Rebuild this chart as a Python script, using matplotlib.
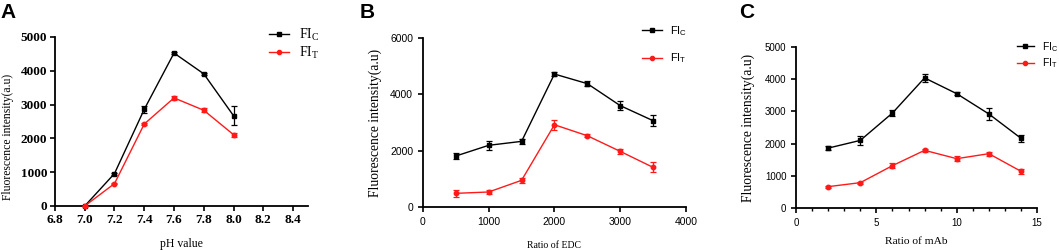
"""
Fluorescence intensity optimisation panels (pH, EDC ratio, mAb ratio).
"""

import matplotlib
matplotlib.use("Agg")
import matplotlib.pyplot as plt
from matplotlib.lines import Line2D
from matplotlib.ticker import MultipleLocator

SERIF = "Liberation Serif"
SANS = "Liberation Sans"
RED = "#FF1A1A"

# Panel A: pH
ph = [7.0, 7.2, 7.4, 7.6, 7.8, 8.0]
ph_fic = [0, 960, 2860, 4525, 3910, 2670]
ph_fic_err = [0, 30, 100, 30, 30, 280]
ph_fit = [0, 663, 2426, 3198, 2832, 2110]
ph_fit_err = [0, 20, 30, 70, 60, 60]

# Panel B: ratio of EDC
edc = [500, 1000, 1500, 2000, 2500, 3000, 3500]
edc_fic = [1810, 2190, 2330, 4720, 4380, 3600, 3065]
edc_fic_err = [110, 160, 80, 80, 80, 150, 200]
edc_fit = [485, 533, 947, 2920, 2530, 1976, 1408]
edc_fit_err = [120, 60, 80, 180, 50, 100, 180]

# Panel C: ratio of mAb
mab = [2, 4, 6, 8, 10, 12, 14]
mab_fic = [1860, 2100, 2950, 4040, 3550, 2920, 2164]
mab_fic_err = [50, 150, 100, 130, 50, 180, 100]
mab_fit = [663, 787, 1315, 1791, 1532, 1687, 1139]
mab_fit_err = [30, 30, 80, 50, 80, 60, 80]

labels = [r"FI$\mathregular{_C}$", r"FI$\mathregular{_T}$"]


def draw_series(ax, x, fic, fic_err, fit, fit_err):
    ax.errorbar(x, fic, yerr=fic_err, color="black", lw=1.0, marker="s",
                ms=3.2, capsize=2, elinewidth=0.9, capthick=0.9,
                clip_on=False, zorder=3)
    ax.errorbar(x, fit, yerr=fit_err, color=RED, lw=1.0, marker="o",
                ms=3.2, capsize=2, elinewidth=0.9, capthick=0.9,
                clip_on=False, zorder=3)


def add_legend(ax, anchor, prop, spacing, pad, hlen):
    handles = [Line2D([], [], color="black", marker="s", ms=3.0, lw=1.0),
               Line2D([], [], color=RED, marker="o", ms=3.0, lw=1.0)]
    ax.legend(handles, labels, loc="upper left", bbox_to_anchor=anchor,
              frameon=False, prop=prop, handlelength=hlen,
              labelspacing=spacing, handletextpad=pad, borderaxespad=0)


def style_axes(ax):
    for s in ["top", "right"]:
        ax.spines[s].set_visible(False)
    for s in ["left", "bottom"]:
        ax.spines[s].set_linewidth(1.3)
    ax.tick_params(width=1.2, length=3.5, direction="out")
    ax.tick_params(which="minor", width=1.0, length=2.5)


fig = plt.figure(figsize=(10.59, 2.5), dpi=100)

# ---- A ----
axA = fig.add_axes([0.0519, 0.176, 0.2389, 0.676])
draw_series(axA, ph, ph_fic, ph_fic_err, ph_fit, ph_fit_err)
style_axes(axA)
axA.set_xlim(6.8, 8.5)
axA.set_ylim(0, 5000)
axA.set_xticks([6.8, 7.0, 7.2, 7.4, 7.6, 7.8, 8.0, 8.2, 8.4])
axA.set_xticklabels([f"{v:.1f}" for v in axA.get_xticks()])
axA.set_yticks(range(0, 5001, 1000))
for lab in axA.get_xticklabels() + axA.get_yticklabels():
    lab.set_fontfamily(SERIF)
    lab.set_fontweight("bold")
    lab.set_fontsize(9.5)
axA.tick_params(pad=2)
axA.set_xlabel("pH value", family=SERIF, fontsize=8.5, labelpad=9)
axA.set_ylabel("Fluorescence intensity(a.u)", family=SERIF, fontsize=8.4)
axA.yaxis.set_label_coords(-0.163, 0.41)
add_legend(axA, (0.826, 1.095), {"family": SERIF, "size": 10}, 0.15, 0.72,
           1.4)

# ---- B ----
axB = fig.add_axes([0.3994, 0.172, 0.2483, 0.676])
draw_series(axB, edc, edc_fic, edc_fic_err, edc_fit, edc_fit_err)
style_axes(axB)
axB.set_xlim(0, 4000)
axB.set_ylim(0, 6000)
axB.set_xticks(range(0, 4001, 1000))
axB.set_yticks(range(0, 6001, 2000))
for lab in axB.get_xticklabels() + axB.get_yticklabels():
    lab.set_fontfamily(SANS)
    lab.set_fontsize(7.5)
axB.set_xlabel("Ratio of EDC", family=SERIF, fontsize=7, labelpad=10)
axB.set_ylabel("Fluorescence intensity(a.u)", family=SERIF, fontsize=9.8,
               labelpad=6)
add_legend(axB, (0.816, 1.11), {"family": SANS, "size": 8}, 1.26, 0.72,
           1.8)

# ---- C ----
axC = fig.add_axes([0.7517, 0.168, 0.2276, 0.644])
draw_series(axC, mab, mab_fic, mab_fic_err, mab_fit, mab_fit_err)
style_axes(axC)
axC.set_xlim(0, 15)
axC.set_ylim(0, 5000)
axC.set_xticks([0, 5, 10, 15])
axC.xaxis.set_minor_locator(MultipleLocator(1))
axC.set_yticks(range(0, 5001, 1000))
for lab in axC.get_xticklabels() + axC.get_yticklabels():
    lab.set_fontfamily(SANS)
    lab.set_fontsize(7)
axC.set_xlabel("Ratio of mAb", family=SERIF, fontsize=8.2, labelpad=7)
axC.set_ylabel("Fluorescence intensity(a.u)", family=SERIF, fontsize=9.8,
               labelpad=7)
add_legend(axC, (0.9, 1.07), {"family": SANS, "size": 7.5}, 0.25, 0.8,
           1.6)

# panel letters
for x, letter in [(0.0, "A"), (0.34, "B"), (0.698, "C")]:
    fig.text(x, 0.99, letter, family=SANS, fontweight="bold", fontsize=15,
             va="top", ha="left")

fig.savefig("out.png", dpi=100)
